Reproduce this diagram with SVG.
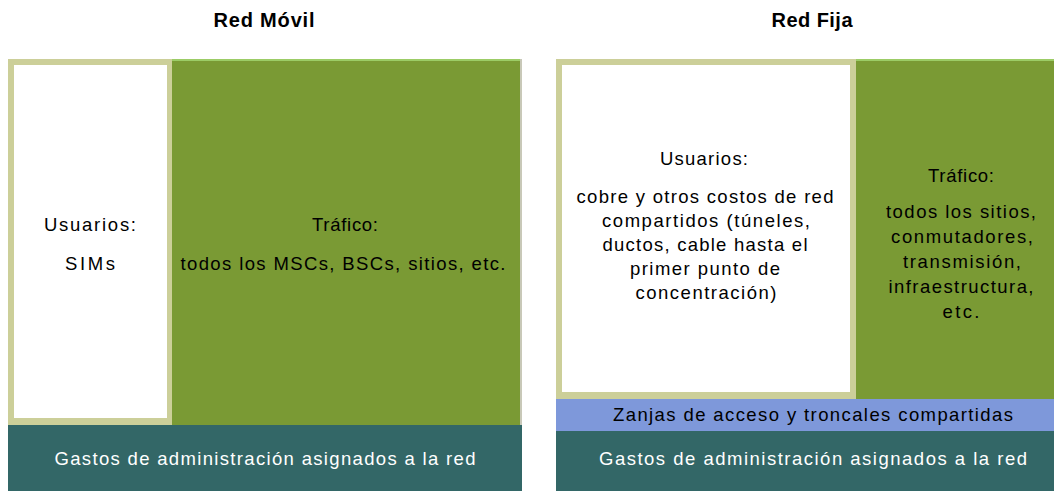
<svg xmlns="http://www.w3.org/2000/svg" width="1057" height="491" viewBox="0 0 1057 491">
<style>
.t{font-family:"Liberation Sans",Arial,sans-serif;font-size:18.5px;text-anchor:middle;fill:#000}
.w{fill:#fff}
.h{font-family:"Liberation Sans",Arial,sans-serif;font-size:20px;font-weight:bold;text-anchor:middle;fill:#000}
.tan{fill:#cccf99}
.white{fill:#fff}
.green{fill:#7a9a34}
.teal{fill:#336767}
.blue{fill:#7e98da}
.gline{fill:#9ccc66}
</style>
<rect width="1057" height="491" fill="#fff"/>
<g id="titles">
<text class="h" x="264" y="27" textLength="101" lengthAdjust="spacing">Red Móvil</text>
<text class="h" x="812" y="27" textLength="81" lengthAdjust="spacing">Red Fija</text>
</g>
<g id="movil-usuarios">
<rect class="tan" x="8" y="59" width="164" height="366"/>
<rect class="white" x="14" y="65" width="153" height="353"/>
<text class="t" x="90" y="231" textLength="92" lengthAdjust="spacing">Usuarios:</text>
<text class="t" x="90" y="270" textLength="50" lengthAdjust="spacing">SIMs</text>
</g>
<g id="movil-trafico">
<rect class="green" x="172" y="59" width="350" height="366"/>
<rect class="gline" x="172" y="59" width="350" height="2"/>
<rect fill="#c8c8b8" x="520" y="59" width="2" height="366"/>
<text class="t" x="345" y="231" textLength="66" lengthAdjust="spacing">Tráfico:</text>
<text class="t" x="343" y="270" textLength="325" lengthAdjust="spacing">todos los MSCs, BSCs, sitios, etc.</text>
</g>
<g id="movil-gastos">
<rect class="teal" x="8" y="425" width="514" height="66"/>
<text class="t w" x="265" y="465" textLength="421" lengthAdjust="spacing">Gastos de administración asignados a la red</text>
</g>
<g id="fija-usuarios">
<rect class="tan" x="556" y="59" width="300" height="340"/>
<rect class="white" x="562" y="65" width="288" height="327"/>
<text class="t" x="704" y="165" textLength="88" lengthAdjust="spacing">Usuarios:</text>
<text class="t" x="705" y="203" textLength="257" lengthAdjust="spacing">cobre y otros costos de red</text>
<text class="t" x="706" y="227" textLength="208" lengthAdjust="spacing">compartidos (túneles,</text>
<text class="t" x="705" y="251" textLength="205" lengthAdjust="spacing">ductos, cable hasta el</text>
<text class="t" x="705" y="275" textLength="150" lengthAdjust="spacing">primer punto de</text>
<text class="t" x="706" y="299" textLength="141" lengthAdjust="spacing">concentración)</text>
</g>
<g id="fija-trafico">
<rect class="green" x="856" y="59" width="198" height="340"/>
<rect class="gline" x="856" y="59" width="198" height="2"/>
<text class="t" x="961" y="182" textLength="66" lengthAdjust="spacing">Tráfico:</text>
<text class="t" x="961" y="218" textLength="150" lengthAdjust="spacing">todos los sitios,</text>
<text class="t" x="962" y="243" textLength="142" lengthAdjust="spacing">conmutadores,</text>
<text class="t" x="962" y="268" textLength="118" lengthAdjust="spacing">transmisión,</text>
<text class="t" x="961" y="293" textLength="145" lengthAdjust="spacing">infraestructura,</text>
<text class="t" x="961" y="318" textLength="37" lengthAdjust="spacing">etc.</text>
</g>
<g id="fija-zanjas">
<rect class="blue" x="556" y="399" width="498" height="32"/>
<text class="t" x="813" y="421" textLength="400" lengthAdjust="spacing">Zanjas de acceso y troncales compartidas</text>
</g>
<g id="fija-gastos">
<rect class="teal" x="556" y="431" width="498" height="60"/>
<text class="t w" x="813" y="465" textLength="428" lengthAdjust="spacing">Gastos de administración asignados a la red</text>
</g>
<g id="connectors"/>
</svg>
